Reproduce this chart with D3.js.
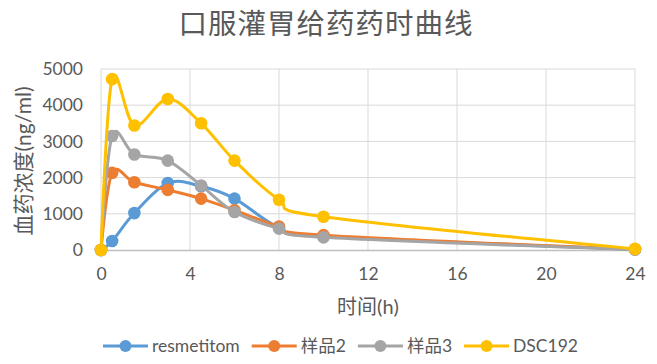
<!DOCTYPE html>
<html>
<head>
<meta charset="utf-8">
<script src="https://cdn.jsdelivr.net/npm/d3@7"></script>
<style>
  body { margin: 0; background: #fff; }
  svg text { font-family: Lato, "Noto Sans CJK SC", sans-serif; fill: #595959; }
</style>
</head>
<body>
<svg id="chart" width="657" height="364"></svg>
<script>
// sampling times (h)
const times = [0, 0.5, 1.5, 3, 4.5, 6, 8, 10, 24];

// concentrations (ng/ml)
const resmetitom = [0, 250, 1020, 1850, 1760, 1420, 620, 380, 20];
const sample2 = [0, 2130, 1870, 1660, 1420, 1100, 650, 410, 20];
const sample3 = [0, 3150, 2640, 2470, 1780, 1050, 590, 350, 10];
const dsc192 = [0, 4720, 3440, 4170, 3500, 2470, 1390, 920, 30];

const seriesNames = ["resmetitom", "样品2", "样品3", "DSC192"];
const xTicks = [0, 4, 8, 12, 16, 20, 24];
const yTicks = [0, 1000, 2000, 3000, 4000, 5000];

const colors = ["#5B9BD5", "#ED7D31", "#A5A5A5", "#FFC000"];
const allValues = [resmetitom, sample2, sample3, dsc192];

const svg = d3.select("#chart");
const plotLeft = 101, plotRight = 635, plotTop = 69, plotBottom = 250;

const x = d3.scaleLinear().domain([0, 24]).range([plotLeft, plotRight]);
const y = d3.scaleLinear().domain([0, 5000]).range([plotBottom, plotTop]);

// title
svg.append("text")
    .attr("x", 326).attr("y", 34)
    .attr("text-anchor", "middle")
    .style("font-size", "28.5px")
    .style("letter-spacing", "1px")
    .text("口服灌胃给药药时曲线");

// grid lines
svg.append("g")
    .selectAll("line")
    .data(yTicks.slice(1))
    .enter().append("line")
    .attr("x1", plotLeft).attr("x2", plotRight)
    .attr("y1", d => y(d)).attr("y2", d => y(d))
    .attr("stroke", "#D9D9D9").attr("stroke-width", 1);

svg.append("g")
    .selectAll("line")
    .data(xTicks)
    .enter().append("line")
    .attr("x1", d => x(d)).attr("x2", d => x(d))
    .attr("y1", plotTop).attr("y2", plotBottom)
    .attr("stroke", "#D9D9D9").attr("stroke-width", 1);

// x axis
const xAxis = svg.append("g")
    .attr("transform", `translate(0, ${plotBottom})`)
    .call(d3.axisBottom(x).tickValues(xTicks).tickSize(0).tickPadding(18));
xAxis.select(".domain").attr("stroke", "#BFBFBF").attr("stroke-width", 1.5);
xAxis.selectAll("text").style("font-size", "17.5px").attr("fill", "#595959");

// y axis
const yAxis = svg.append("g")
    .attr("transform", `translate(${plotLeft}, 0)`)
    .call(d3.axisLeft(y).tickValues(yTicks).tickFormat(d3.format("d")).tickSize(0).tickPadding(18));
yAxis.select(".domain").remove();
yAxis.selectAll("text").style("font-size", "17.5px").attr("fill", "#595959");

// axis titles
svg.append("text")
    .attr("x", (plotLeft + plotRight) / 2).attr("y", 314)
    .attr("text-anchor", "middle")
    .style("font-size", "20px")
    .text("时间(h)");

svg.append("text")
    .attr("transform", "translate(31, 161) rotate(-90)")
    .attr("text-anchor", "middle")
    .style("font-size", "21px")
    .text("血药浓度(ng/ml)");

// lines + markers, one series after another
const line = d3.line()
    .x((d, i) => x(times[i]))
    .y(d => y(d))
    .curve(d3.curveCatmullRom.alpha(0));

allValues.forEach((vals, k) => {
    const g = svg.append("g");
    g.append("path")
        .datum(vals)
        .attr("d", line)
        .attr("fill", "none")
        .attr("stroke", colors[k])
        .attr("stroke-width", 3)
        .attr("stroke-linejoin", "round");
    g.selectAll("circle")
        .data(vals)
        .enter().append("circle")
        .attr("cx", (d, i) => x(times[i]))
        .attr("cy", d => y(d))
        .attr("r", 6.3)
        .attr("fill", colors[k]);
});

// legend
const legend = svg.append("g").attr("transform", "translate(103, 346)");
let offset = 0;
seriesNames.forEach((name, k) => {
    const item = legend.append("g").attr("transform", `translate(${offset}, 0)`);
    item.append("line")
        .attr("x1", 0).attr("x2", 45)
        .attr("stroke", colors[k]).attr("stroke-width", 3);
    item.append("circle")
        .attr("cx", 22.5).attr("r", 6).attr("fill", colors[k]);
    const t = item.append("text")
        .attr("x", 49).attr("dy", "0.35em")
        .style("font-size", "17.5px")
        .text(name);
    offset += 49 + t.node().getComputedTextLength() + 12;
});
</script>
</body>
</html>
